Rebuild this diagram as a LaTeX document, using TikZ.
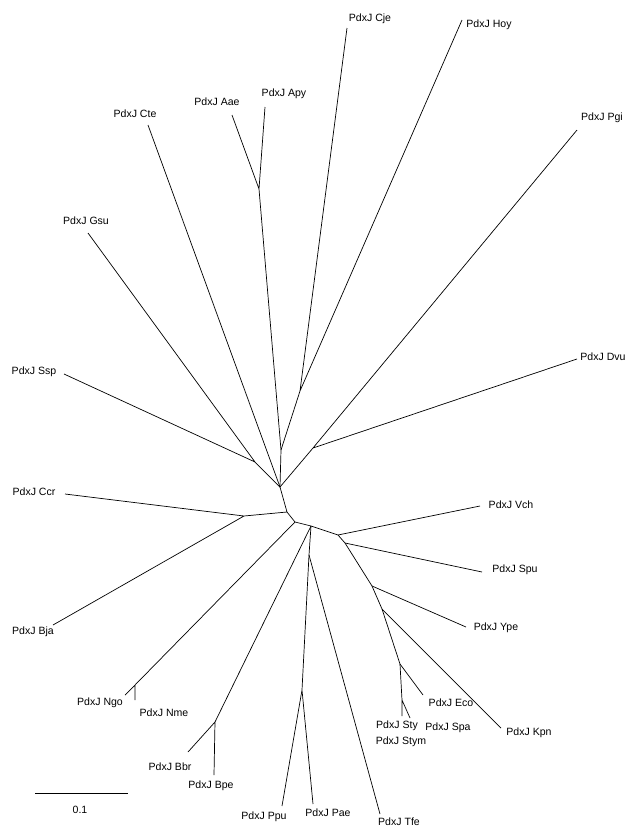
\documentclass[tikz,border=0pt]{standalone}
\usepackage{fontspec}
\setmainfont{Liberation Sans}
\begin{document}
\begin{tikzpicture}[x=0.03cm,y=-0.03cm,line width=0.6pt,
  every node/.style={font=\fontsize{9}{10}\selectfont,inner sep=0pt}]
  \useasboundingbox (0,0) rectangle (640,830);
  % inner nodes
  \coordinate (hub) at (280,487);
  \coordinate (gs) at (255,462);
  \coordinate (up) at (281,450);
  \coordinate (ch) at (300,391);
  \coordinate (aa) at (259,189);
  \coordinate (pd) at (313,448);
  \coordinate (lo) at (287,512);
  \coordinate (cb) at (244,516);
  \coordinate (nn) at (295,522);
  \coordinate (md) at (311,526);
  \coordinate (vc) at (338,535);
  \coordinate (sp) at (345,543);
  \coordinate (yp) at (372,586);
  \coordinate (kp) at (382,609);
  \coordinate (ec) at (400,664);
  \coordinate (st) at (402,700);
  \coordinate (ng) at (135,685);
  \coordinate (bb) at (215,722);
  \coordinate (tf) at (309,555);
  \coordinate (pp) at (302,690);
  % tips
  \coordinate (t-cje) at (347,28);
  \coordinate (t-hoy) at (462,20);
  \coordinate (t-apy) at (265,107);
  \coordinate (t-aae) at (232,115);
  \coordinate (t-cte) at (148,125);
  \coordinate (t-pgi) at (577,130);
  \coordinate (t-gsu) at (88,233);
  \coordinate (t-ssp) at (64,374);
  \coordinate (t-dvu) at (577,359);
  \coordinate (t-ccr) at (65,494);
  \coordinate (t-bja) at (53,625);
  \coordinate (t-vch) at (480,506);
  \coordinate (t-spu) at (482,572);
  \coordinate (t-ype) at (466,627);
  \coordinate (t-kpn) at (501,728);
  \coordinate (t-eco) at (423,695);
  \coordinate (t-sty) at (402,716);
  \coordinate (t-spa) at (410,718);
  \coordinate (t-ngo) at (125,695);
  \coordinate (t-nme) at (135,700);
  \coordinate (t-bbr) at (188,752);
  \coordinate (t-bpe) at (214,775);
  \coordinate (t-ppu) at (282,806);
  \coordinate (t-pae) at (313,804);
  \coordinate (t-tfe) at (380,814);

  %edges
  \draw (hub) -- (gs) (gs) -- (t-gsu) (gs) -- (t-ssp);
  \draw (hub) -- (t-cte);
  \draw (hub) -- (up) -- (aa) (aa) -- (t-aae) (aa) -- (t-apy);
  \draw (up) -- (ch) (ch) -- (t-cje) (ch) -- (t-hoy);
  \draw (hub) -- (pd) (pd) -- (t-pgi) (pd) -- (t-dvu);
  \draw (hub) -- (lo) -- (cb) (cb) -- (t-ccr) (cb) -- (t-bja);
  \draw (lo) -- (nn) -- (md) -- (vc) -- (sp) -- (yp) -- (kp) -- (ec) -- (st);
  \draw (vc) -- (t-vch) (sp) -- (t-spu) (yp) -- (t-ype) (kp) -- (t-kpn);
  \draw (ec) -- (t-eco) (st) -- (t-sty) (st) -- (t-spa);
  \draw (nn) -- (ng) (ng) -- (t-ngo) (ng) -- (t-nme);
  \draw (md) -- (bb) (bb) -- (t-bbr) (bb) -- (t-bpe);
  \draw (md) -- (tf) -- (pp) (pp) -- (t-ppu) (pp) -- (t-pae);
  \draw (tf) -- (t-tfe);

  %labels
  \node (cje) [at={(370,19)}] {PdxJ Cje};
  \node (hoy) [at={(489,25)}] {PdxJ Hoy};
  \node (apy) [at={(284,94)}] {PdxJ Apy};
  \node (aae) [at={(217,102)}] {PdxJ Aae};
  \node (cte) [at={(135,114)}] {PdxJ Cte};
  \node (pgi) [at={(602,118)}] {PdxJ Pgi};
  \node (gsu) [at={(86,221)}] {PdxJ Gsu};
  \node (ssp) [at={(34,372)}] {PdxJ Ssp};
  \node (dvu) [at={(603,357)}] {PdxJ Dvu};
  \node (ccr) [at={(34,492)}] {PdxJ Ccr};
  \node (vch) [at={(511,505)}] {PdxJ Vch};
  \node (spu) [at={(515,570)}] {PdxJ Spu};
  \node (ype) [at={(496,628)}] {PdxJ Ype};
  \node (bja) [at={(33,632)}] {PdxJ Bja};
  \node (ngo) [at={(100,703)}] {PdxJ Ngo};
  \node (nme) [at={(164,713)}] {PdxJ Nme};
  \node (eco) [at={(451,703)}] {PdxJ Eco};
  \node (sty) [at={(397,726)}] {PdxJ Sty};
  \node (spa) [at={(448,728)}] {PdxJ Spa};
  \node (stym) [at={(401,742)}] {PdxJ Stym};
  \node (kpn) [at={(529,733)}] {PdxJ Kpn};
  \node (bbr) [at={(170,767)}] {PdxJ Bbr};
  \node (bpe) [at={(211,786)}] {PdxJ Bpe};
  \node (ppu) [at={(264,817)}] {PdxJ Ppu};
  \node (pae) [at={(328,813)}] {PdxJ Pae};
  \node (tfe) [at={(399,822)}] {PdxJ Tfe};

  % scale bar
  \coordinate (bar-l) at (35,793);
  \coordinate (bar-r) at (128,793);
  \draw (bar-l) -- (bar-r);
  \node (bar) [at={(80,810)}] {0.1};
\end{tikzpicture}
\end{document}
